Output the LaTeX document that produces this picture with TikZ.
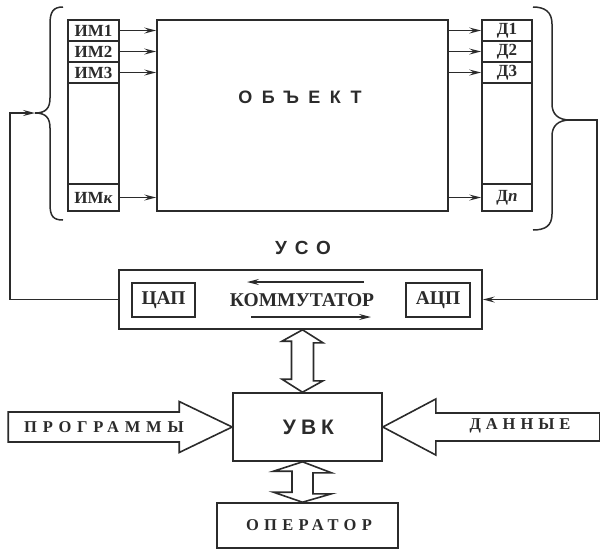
\documentclass[tikz,border=0pt]{standalone}
\usepackage{fontspec}
\setmainfont{Liberation Serif}
\newfontfamily\sansf{Liberation Sans}
\usetikzlibrary{arrows.meta,calc}
\definecolor{ink}{HTML}{2B2B2B}
\begin{document}
\begin{tikzpicture}[x=1pt,y=-1pt, line join=miter,
  box/.style={draw=ink, line width=1.6pt, inner sep=0pt},
  cell/.style={draw=ink, line width=1.6pt, minimum width=51pt, inner sep=0pt,
    font=\fontsize{17}{18}\selectfont\bfseries, text=ink},
  lbl/.style={font=\fontsize{19.5}{22}\selectfont\bfseries, text=ink},
  sanslbl/.style={text=ink, inner sep=0pt},
  arr/.style={draw=ink, line width=1.4pt, -{Stealth[length=12pt,width=6pt,inset=4.5pt]}},
  wire/.style={draw=ink, line width=1.5pt},
  blk/.style={draw=ink, line width=1.6pt, fill=white, line join=miter},
]
\useasboundingbox (0,0) rectangle (600,550);

% left column
\node[cell, minimum height=21pt] (im1) at (93.5,30.5) {ИМ1};
\node[cell, minimum height=21pt] (im2) at (93.5,51.5) {ИМ2};
\node[cell, minimum height=21pt] (im3) at (93.5,72.5) {ИМ3};
\node[cell, minimum height=101pt] (imx) at (93.5,133.5) {};
\node[cell, minimum height=27pt] (imk) at (93.5,197.5) {ИМ\textit{к}};

% right column
\node[cell, minimum width=50pt, minimum height=21pt] (d1) at (507,30.5) {Д1};
\node[cell, minimum width=50pt, minimum height=21pt] (d2) at (507,51.5) {Д2};
\node[cell, minimum width=50pt, minimum height=21pt] (d3) at (507,72.5) {Д3};
\node[cell, minimum width=50pt, minimum height=101pt] (dx) at (507,133.5) {};
\node[cell, minimum width=50pt, minimum height=27pt] (dn) at (507,197.5) {Д\textit{п}};

% object
\node[box, minimum width=291pt, minimum height=191pt] (obj) at (302.5,115.5) {};
\node[sanslbl, font=\sansf\bfseries\fontsize{18}{20}\selectfont\addfontfeatures{LetterSpace=52}] (objt) at (300,97) {ОБЪЕКТ};

\foreach \r in {im1,im2,im3,imk} \draw[arr] (\r.east) -- (\r.east -| obj.west);
\foreach \r in {d1,d2,d3,dn} \draw[arr] (\r.west -| obj.east) -- (\r.west);

% braces
\coordinate (lbt) at (35,113);
\coordinate (rbt) at (570,120);
\draw[wire] (63,7) .. controls (53,7) and (50,12) .. (50,24) -- (50,98)
  .. controls (50,108) and (46,113) .. (lbt)
  .. controls (46,113) and (50,118) .. (50,128) -- (50,204)
  .. controls (50,216) and (53,220) .. (63,220);
\draw[wire] (533,7) .. controls (545,7) and (552,12) .. (552,24) -- (552,104)
  .. controls (552,114) and (558,120) .. (rbt)
  .. controls (558,120) and (552,126) .. (552,136) -- (552,214)
  .. controls (552,226) and (545,230) .. (533,230);

% USO
\node[box, minimum width=363pt, minimum height=59pt] (uso) at (300.5,299.5) {};
\node[sanslbl, font=\sansf\bfseries\fontsize{19}{21}\selectfont\addfontfeatures{LetterSpace=42}] (usot) at (303,247.5) {УСО};
\node[box, lbl, minimum width=63pt, minimum height=34pt] (dac) at (163.5,300) {ЦАП};
\node[box, lbl, minimum width=64pt, minimum height=34pt] (adc) at (438,300) {АЦП};
\node[lbl, inner sep=0pt] (kom) at (302,300) {КОММУТАТОР};
\coordinate (k1) at (364,282);
\coordinate (k2) at (247,282);
\coordinate (k3) at (251,317);
\coordinate (k4) at (371,317);
\draw[arr] (k1) -- (k2);
\draw[arr] (k3) -- (k4);

% feedback
\coordinate (lx) at (10,0);
\coordinate (rx) at (597,0);
\draw[arr] (uso.west) -- (uso.west -| lx) |- (lbt);
\draw[arr] (rbt) -- (rbt -| rx) |- (uso.east);

% UVK
\node[box, minimum width=149pt, minimum height=68pt,
  font=\sansf\bfseries\fontsize{21}{23}\selectfont\addfontfeatures{LetterSpace=24}, text=ink] (uvk) at (307.5,427) {\kern2pt УВК};
\node[box, minimum width=181pt, minimum height=45pt,
  font=\fontsize{16.5}{18}\selectfont\bfseries\addfontfeatures{LetterSpace=32}, text=ink] (op) at (307.5,525.5) {\kern3pt ОПЕРАТОР};

\coordinate (ax) at (302.5,0);
\draw[blk] (uso.south -| ax) -- ++(20.5,13) -- ++(-9.5,0) -- ++(0,38) -- ++(9.5,0)
  -- (uvk.north -| ax) -- ++(-20.5,-13) -- ++(9.5,0) -- ++(0,-38) -- ++(-9.5,0) -- cycle;
\draw[blk] (uvk.south -| ax) -- ++(29,11) -- ++(-18.5,0) -- ++(0,21) -- ++(18.5,0)
  -- (op.north -| ax) -- ++(-29,-10) -- ++(18.5,0) -- ++(0,-21) -- ++(-18.5,0) -- cycle;

% side block arrows
\draw[blk] (uvk.west) -- ++(-53,-25.5) -- ++(0,10.5) -- ++(-171,0) -- ++(0,30)
  -- ++(171,0) -- ++(0,10.5) -- cycle;
\draw[blk] (uvk.east) -- ++(53,-28) -- ++(0,14) -- ++(164,0) -- ++(0,28)
  -- ++(-164,0) -- ++(0,14) -- cycle;
\node[text=ink, font=\fontsize{16.5}{18}\selectfont\bfseries\addfontfeatures{LetterSpace=35}] (prog) at (104,427) {ПРОГРАММЫ};
\node[text=ink, font=\fontsize{16.5}{18}\selectfont\bfseries\addfontfeatures{LetterSpace=30}] (dan) at (520,426) {ДАННЫЕ};
\end{tikzpicture}
\end{document}
